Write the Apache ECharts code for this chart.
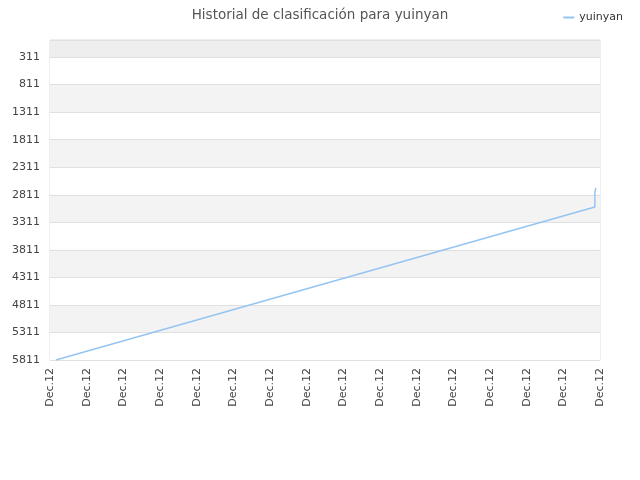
<!DOCTYPE html>
<html>
<head>
<meta charset="utf-8">
<script src="https://cdn.jsdelivr.net/npm/echarts@6/dist/echarts.min.js"></script>
<style>html,body{margin:0;padding:0;background:#fff}#c{width:640px;height:480px}</style>
</head>
<body>
<div id="c"></div>
<script>
const titleText = 'Historial de clasificación para yuinyan';
const seriesName = 'yuinyan';
const xLabels = ['Dec.12','Dec.12','Dec.12','Dec.12','Dec.12','Dec.12','Dec.12','Dec.12','Dec.12','Dec.12','Dec.12','Dec.12','Dec.12','Dec.12','Dec.12','Dec.12'];
const xPos = [0.16, 14.86, 14.86, 14.89];
const ranks = [5811, 3033, 2761, 2688];
const yTicks = [311, 811, 1311, 1811, 2311, 2811, 3311, 3811, 4311, 4811, 5311, 5811];
const yMin = 1;

const bandColors = ['#eeeeee'];
for (let i = 1; i < yTicks.length; i++) bandColors.push(i % 2 === 1 ? '#ffffff' : '#f3f3f3');

const chart = echarts.init(document.getElementById('c'));
chart.setOption({
  animation: false,
  textStyle: { fontFamily: 'DejaVu Sans' },
  title: { text: titleText, left: 'center', top: 3,
    textStyle: { fontSize: 13.5, fontWeight: 'normal', color: '#555', fontFamily: 'DejaVu Sans' } },
  legend: { right: 12, top: 7, itemWidth: 11, itemHeight: 2, itemGap: 8, icon: 'rect',
    textStyle: { fontSize: 11, color: '#333', fontFamily: 'DejaVu Sans' },
    data: [seriesName] },
  grid: { left: 50, right: 40, top: 40, bottom: 120, show: true, borderColor: '#dddddd', borderWidth: 1, backgroundColor: 'transparent' },
  xAxis: {
    type: 'value', min: 0, max: xLabels.length - 1, interval: 1,
    axisLine: { show: false }, axisTick: { show: false }, splitLine: { show: false },
    axisLabel: { rotate: 90, fontSize: 11, color: '#444', margin: 8,
      formatter: v => xLabels[Math.round(v)] || '' }
  },
  yAxis: {
    type: 'value', inverse: true, min: yMin, max: yTicks[yTicks.length - 1],
    axisLine: { show: false },
    axisTick: { show: false, customValues: [yMin].concat(yTicks) },
    axisLabel: { customValues: yTicks, fontSize: 11, color: '#444', margin: 10,
      formatter: v => String(v) },
    splitLine: { show: true, lineStyle: { color: '#e0e0e0', width: 1 } },
    splitArea: { show: true, areaStyle: { color: bandColors } }
  },
  series: [{
    name: seriesName, type: 'line', symbol: 'none',
    lineStyle: { color: '#96c4f2', width: 1.5 },
    itemStyle: { color: '#96c4f2' },
    data: xPos.map((x, i) => [x, ranks[i]])
  }]
});
</script>
</body>
</html>
